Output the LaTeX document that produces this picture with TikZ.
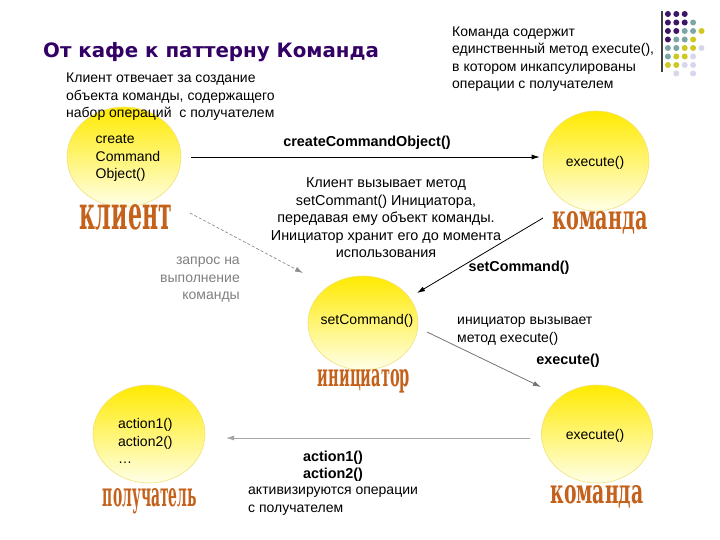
\documentclass[tikz,border=0pt]{standalone}
\usepackage{fontspec}
\usepackage{graphicx}
\setmainfont{Liberation Sans}
\newfontfamily\titlefont{DejaVu Sans}
\newfontfamily\artfont{DejaVu Serif}
\usetikzlibrary{arrows.meta, shapes.geometric, positioning}

\definecolor{titlepurple}{RGB}{51,0,102}
\definecolor{dotP}{RGB}{62,22,102}
\definecolor{dotT}{RGB}{122,166,166}
\definecolor{dotY}{RGB}{206,200,32}
\definecolor{dotL}{RGB}{214,214,236}
\definecolor{artorange}{RGB}{196,98,28}
\definecolor{discedge}{RGB}{240,226,120}
\definecolor{discyellow}{RGB}{255,234,0}
\definecolor{discpale}{RGB}{255,255,232}

\begin{document}
\begin{tikzpicture}[
x=1bp, y=-1bp,
% #region Picture settings %
disc/.style={ellipse, draw=discedge, line width=0.6bp, top color=discyellow, middle color=discyellow!65!discpale, bottom color=discpale, inner sep=0pt},
txt/.style={font=\fontsize{14bp}{17.5bp}\selectfont, inner sep=0pt},
bigtxt/.style={font=\fontsize{14.4bp}{17.5bp}\selectfont, inner sep=0pt},
cmd/.style={font=\fontsize{14.4bp}{17bp}\selectfont\bfseries, inner sep=0pt},
art/.style={text=artorange, inner sep=0pt},
flow/.style={-{Latex[length=8bp,width=5bp]}, line width=0.8bp},
% #endregion Picture settings %
]

\useasboundingbox[fill=white] (0,0) rectangle (720,540);

% title and corner ornament
\node[anchor=base west, inner sep=0pt, text=titlepurple, font=\titlefont\bfseries\fontsize{19.8bp}{23bp}\selectfont] (title) at (43,58) {От кафе к паттерну Команда};

\draw[line width=1.5bp, black!75] (662,11) -- (662,72);
\foreach \row [count=\j] in {{P,P,P},{P,P,P,T},{P,P,T,T,Y},{P,T,T,Y},{T,T,Y,Y,L},{T,Y,Y,L},{Y,Y,L,L}}{
  \foreach \c [count=\i] in \row
    \fill[dot\c] (659.5+8.4*\i, 5.5+8.5*\j) circle (3bp);
}
\foreach \i in {2,4}
  \fill[dotL] (659.5+8.4*\i, 73.5) circle (3bp);

% participants
\node[disc, minimum width=114bp, minimum height=100bp] (client) at (124,157) {};
\node[disc, minimum width=106bp, minimum height=100bp] (cmdtop) at (596,161) {};
\node[disc, minimum width=110bp, minimum height=94bp] (init) at (363,323) {};
\node[disc, minimum width=112bp, minimum height=98bp] (recv) at (149,434) {};
\node[disc, minimum width=111bp, minimum height=98bp] (cmdbot) at (597,434) {};

\node[txt, align=left] (clientops) at (128,158) {create\\Command\\Object()};
\node[txt] (cmdtopops) at (595,163) {execute()};
\node[txt] (initops) at (367,321) {setCommand()};
\node[txt, align=left, anchor=west] (recvops) at (118,441) {action1()\\action2()\\…};
\node[txt] (cmdbotops) at (595,436) {execute()};

\node[art] (clientart) at (126,217) {\resizebox{92bp}{25bp}{\artfont\bfseries клиент}};
\node[art] (cmdtopart) at (600,223) {\resizebox{95bp}{18bp}{\artfont\bfseries команда}};
\node[art] (initart) at (364,381) {\resizebox{92bp}{17bp}{\artfont\bfseries инициатор}};
\node[art] (recvart) at (150,501) {\resizebox{94bp}{18bp}{\artfont\bfseries получатель}};
\node[art] (cmdbotart) at (597,497) {\resizebox{93bp}{18bp}{\artfont\bfseries команда}};

% notes
\node[txt, align=left, anchor=west] (clientnote) at (66,97) {Клиент отвечает за создание\\объекта команды, содержащего\\набор операций~ с получателем};
\node[txt, align=left, anchor=west] (cmdnote) at (452,59) {Команда содержит\\единственный метод execute(),\\в котором инкапсулированы\\операции с получателем};
\node[bigtxt, align=center] (setnote) at (386,218) {Клиент вызывает метод\\setCommant() Инициатора,\\передавая ему объект команды.\\Инициатор хранит его до момента\\использования};
\node[txt, align=right, anchor=east, text=black!50] (asknote) at (240,280) {запрос на\\выполнение\\команды};
\node[txt, align=left, anchor=west] (callnote) at (457,331) {инициатор вызывает\\метод execute()};
\node[txt, align=left, anchor=west] (actnote) at (248,501) {активизируются операции\\с получателем};

% messages
\draw[flow] ([xshift=10bp]client.east) -- ([xshift=-3bp]client.east -| cmdtop.west);
\node[cmd] (createlbl) at (367,143) {createCommandObject()};

\draw[flow, black!45, line width=0.7bp, dash pattern=on 3bp off 2bp] ([shift={(66,56)}]client.center) -- ([shift={(-60,-50)}]init.center);

\draw[flow] ([shift={(-53,57)}]cmdtop.center) -- ([shift={(54,-30)}]init.center);
\node[cmd] (setlbl) at (519,268) {setCommand()};

\draw[flow, black!55] ([shift={(64,9)}]init.center) -- ([shift={(-56,-47)}]cmdbot.center);
\node[cmd] (execlbl) at (568,361) {execute()};

\draw[flow, black!35] ([shift={(-67,4)}]cmdbot.center) -- ([shift={(77,4)}]recv.center);
\node[cmd, align=center] (actlbl) at (333,466) {action1()\\action2()};

\end{tikzpicture}
\end{document}
